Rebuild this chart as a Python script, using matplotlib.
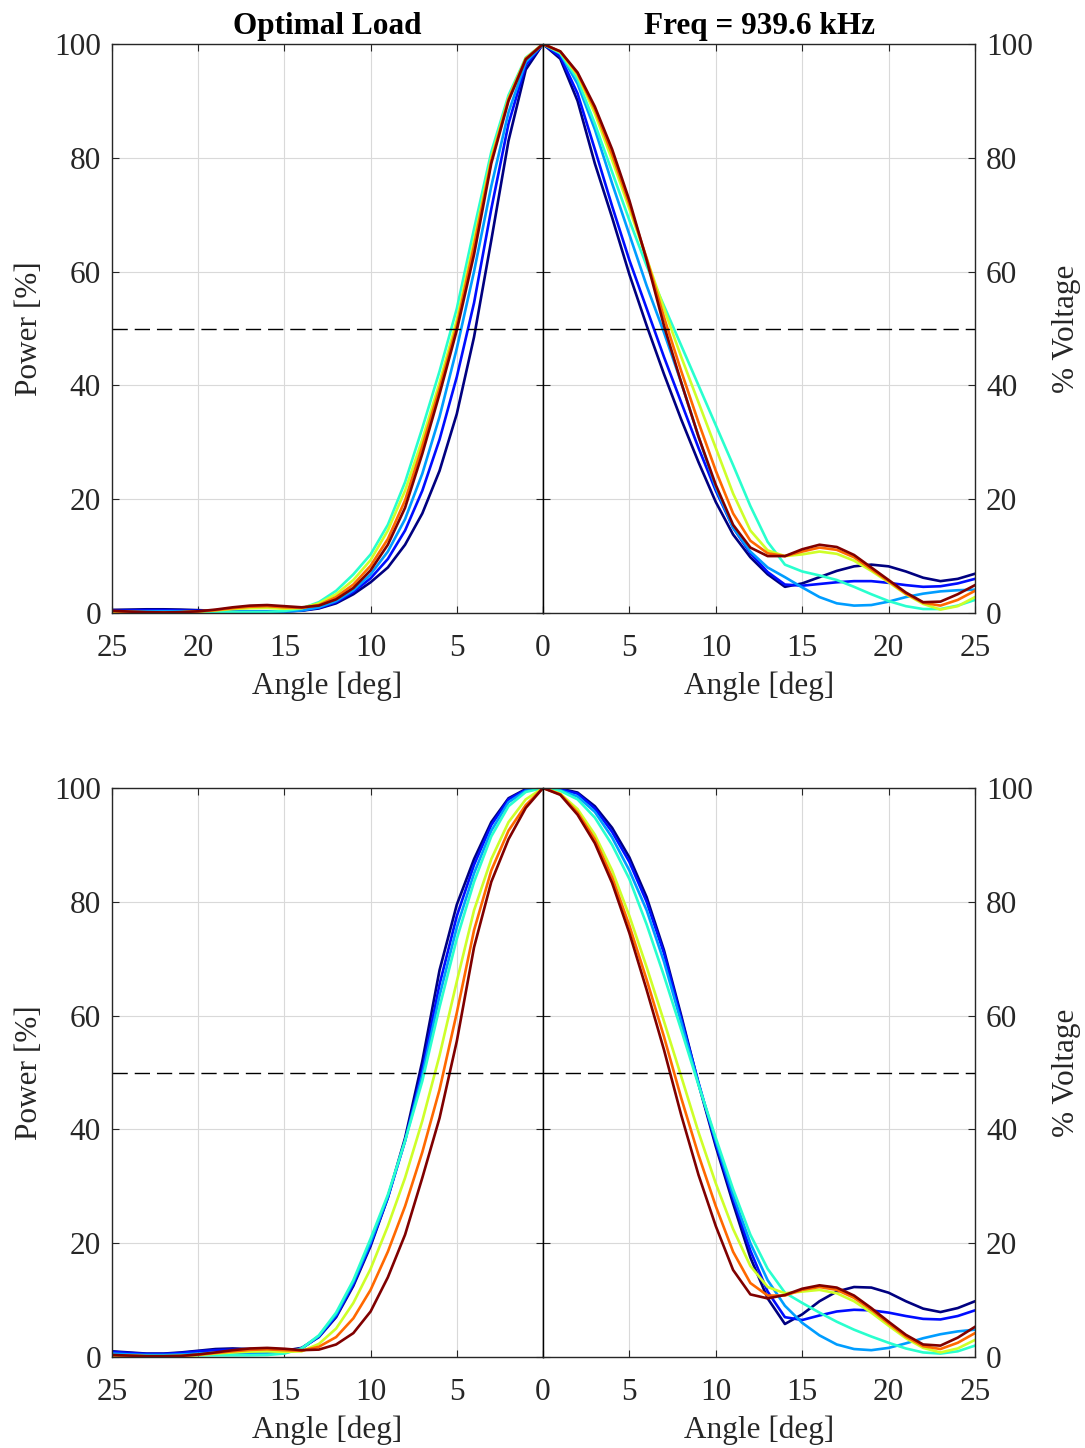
import numpy as np
import matplotlib
matplotlib.use('Agg')
import matplotlib.pyplot as plt

plt.rcParams['font.family'] = ['Liberation Serif', 'DejaVu Serif']

# angle samples (deg) shared by every curve, each half goes 0 -> 25
angles = list(range(26))
# position of each curve in the jet colormap (first = navy, last = dark red)
jet_levels = [0.0, 0.14, 0.28, 0.4, 0.6, 0.8, 1.0]
xticks = [0, 5, 10, 15, 20, 25]
yticks = [0, 20, 40, 60, 80, 100]

# ---- top panel, left half (power %) ----
tl_navy = [100, 95.5, 83, 65.5, 48.5, 35, 25, 17.5, 12, 8, 5.4, 3.3, 1.7, 0.8, 0.4, 0.3, 0.3, 0.3, 0.35, 0.4, 0.5, 0.6, 0.65, 0.65, 0.6, 0.55]
tl_blue = [100, 96.3, 86, 71, 54.5, 41.5, 30.5, 21.5, 14.5, 9.5, 6.1, 3.7, 1.9, 0.9, 0.45, 0.3, 0.3, 0.3, 0.3, 0.35, 0.4, 0.45, 0.5, 0.5, 0.45, 0.4]
tl_sky = [100, 96.8, 88, 75, 60, 46.5, 34.5, 24.5, 16.5, 10.8, 6.8, 4.0, 2.1, 1.0, 0.45, 0.25, 0.2, 0.2, 0.2, 0.25, 0.3, 0.3, 0.3, 0.3, 0.3, 0.3]
tl_aqua = [100, 97.6, 91, 81, 67.5, 53.5, 42.5, 32.5, 23, 15.5, 10.3, 6.8, 3.9, 1.9, 0.8, 0.35, 0.2, 0.2, 0.2, 0.2, 0.15, 0.12, 0.1, 0.1, 0.12, 0.18]
tl_lime = [100, 97.5, 90.5, 80, 65.5, 51.5, 40.5, 30.5, 21.5, 14.5, 9.3, 5.8, 3.3, 1.7, 0.85, 0.75, 0.9, 0.85, 0.7, 0.45, 0.25, 0.12, 0.08, 0.1, 0.15, 0.25]
tl_orange = [100, 97.4, 90.3, 79.5, 64.5, 50.5, 39.5, 29.3, 19.8, 13, 8.3, 5.0, 2.8, 1.4, 0.9, 1.0, 1.2, 1.1, 0.85, 0.5, 0.28, 0.13, 0.09, 0.12, 0.2, 0.32]
tl_red = [100, 97.3, 90, 79, 63, 49.7, 38.5, 28, 18.5, 12, 7.5, 4.4, 2.4, 1.3, 1.0, 1.2, 1.4, 1.3, 1.0, 0.6, 0.3, 0.15, 0.1, 0.15, 0.25, 0.4]

# ---- top panel, right half ----
tr_navy = [100, 97.4, 90, 79, 69.5, 59.5, 50.5, 42, 34, 26.5, 19.5, 13.8, 9.8, 6.8, 4.6, 5.2, 6.3, 7.4, 8.2, 8.5, 8.2, 7.3, 6.2, 5.6, 6.0, 6.9]
tr_blue = [100, 97.8, 91.3, 81.5, 71.5, 62, 53.5, 45, 37, 29, 21.5, 15, 10.5, 7.2, 5.0, 4.8, 5.1, 5.4, 5.6, 5.6, 5.3, 4.9, 4.6, 4.7, 5.2, 6.0]
tr_sky = [100, 98.3, 93, 85, 75.5, 66.5, 57.5, 49.3, 40.5, 31, 22, 15, 10.8, 8.0, 6.3, 4.5, 2.8, 1.7, 1.3, 1.4, 2.0, 2.8, 3.4, 3.8, 4.0, 4.1]
tr_aqua = [100, 98.4, 93.8, 86, 77.5, 69, 61, 54, 47, 40, 33, 26, 18.8, 12.5, 8.5, 7.3, 6.6, 5.8, 4.6, 3.3, 2.1, 1.2, 0.7, 0.7, 1.3, 2.3]
tr_lime = [100, 98.6, 94.5, 87.8, 79.6, 71, 62.3, 53.5, 45, 37, 29, 21, 14.5, 11, 10, 10.3, 10.8, 10.4, 9.2, 7.4, 5.4, 3.3, 1.6, 0.6, 1.2, 2.8]
tr_orange = [100, 98.7, 94.8, 88.5, 80.6, 71.8, 62.3, 52, 42.5, 33.5, 25, 17.5, 12.7, 10.5, 10.0, 10.8, 11.5, 11.1, 9.8, 7.7, 5.6, 3.4, 1.8, 1.3, 2.3, 3.9]
tr_red = [100, 98.7, 95, 89, 81.5, 72.5, 62, 50.5, 40.5, 31, 22.5, 15.5, 11.5, 10.0, 10.0, 11.2, 12.0, 11.6, 10.2, 8.0, 5.8, 3.6, 1.9, 2.0, 3.3, 4.9]

# ---- bottom panel, left half ----
bl_navy = [100, 99.8, 98.2, 94, 87.5, 79.5, 68, 52, 38.5, 28, 19.5, 12.5, 7, 3.5, 1.6, 1.1, 1.2, 1.4, 1.5, 1.4, 1.1, 0.8, 0.6, 0.6, 0.8, 1.0]
bl_blue = [100, 99.7, 98, 93.5, 86.5, 77.5, 65.5, 50.5, 38, 28, 19.8, 12.8, 7.2, 3.6, 1.5, 0.9, 1.0, 1.2, 1.3, 1.2, 1.0, 0.7, 0.55, 0.55, 0.7, 0.9]
bl_sky = [100, 99.5, 97.5, 92.5, 85, 75.5, 63.5, 49.5, 38, 28.2, 20.2, 13.2, 7.5, 3.7, 1.5, 0.7, 0.6, 0.7, 0.8, 0.75, 0.6, 0.45, 0.35, 0.35, 0.45, 0.6]
bl_aqua = [100, 99.3, 96.8, 91.5, 83.5, 73.5, 61.5, 48.5, 38, 28.5, 20.8, 13.5, 7.8, 3.8, 1.5, 0.6, 0.35, 0.3, 0.3, 0.3, 0.3, 0.25, 0.2, 0.2, 0.25, 0.3]
bl_lime = [100, 98, 94, 87.5, 78.5, 66, 53, 41.5, 31.5, 23, 15.5, 9.5, 5.0, 2.3, 1.0, 0.9, 1.0, 0.95, 0.8, 0.6, 0.35, 0.15, 0.1, 0.12, 0.2, 0.3]
bl_orange = [100, 97, 92.5, 85.5, 75, 60.5, 47, 36, 26.5, 18.5, 11.8, 6.8, 3.5, 1.8, 1.1, 1.2, 1.35, 1.25, 1.0, 0.7, 0.4, 0.18, 0.12, 0.13, 0.22, 0.32]
bl_red = [100, 96.5, 91, 83.5, 72, 55.5, 42, 31.5, 21.5, 14, 8, 4.2, 2.2, 1.3, 1.2, 1.45, 1.6, 1.5, 1.2, 0.8, 0.45, 0.2, 0.15, 0.15, 0.25, 0.35]

# ---- bottom panel, right half ----
br_navy = [100, 99.9, 99.2, 96.8, 93, 87.8, 80.8, 71.5, 60, 48, 37, 27, 17.5, 10.3, 5.8, 7.5, 9.8, 11.5, 12.3, 12.2, 11.3, 9.8, 8.5, 7.9, 8.6, 9.8]
br_blue = [100, 99.8, 99.0, 96.4, 92.3, 87, 80, 71, 59.5, 48.2, 37.5, 27.8, 18.7, 11.5, 7.0, 6.5, 7.3, 8.0, 8.3, 8.2, 7.8, 7.2, 6.7, 6.6, 7.2, 8.2]
br_sky = [100, 99.6, 98.5, 95.8, 91.3, 85.5, 78.5, 69.5, 58.8, 48, 38, 28.5, 20, 13.5, 9.0, 6.0, 3.8, 2.2, 1.4, 1.2, 1.6, 2.4, 3.3, 4.0, 4.5, 4.8]
br_aqua = [100, 99.5, 98, 94.8, 90, 84, 76, 67, 57.5, 47.8, 38.5, 29.5, 21.5, 15.5, 11.3, 9.5, 7.8, 6.2, 4.8, 3.6, 2.5, 1.5, 0.8, 0.6, 1.0, 2.0]
br_lime = [100, 99, 96.3, 91.8, 85.5, 77.5, 68.5, 59, 49.3, 39.5, 30.5, 22.5, 16, 12.3, 11.2, 11.5, 11.8, 11.2, 9.8, 7.8, 5.5, 3.3, 1.6, 0.8, 1.5, 3.0]
br_orange = [100, 98.9, 95.7, 91, 84.3, 75.8, 66.3, 56.3, 45.5, 35.5, 26.5, 18.5, 13, 10.8, 10.8, 11.8, 12.3, 11.8, 10.4, 8.3, 5.9, 3.6, 1.9, 1.4, 2.5, 4.2]
br_red = [100, 98.8, 95.3, 90.3, 83.3, 74.5, 64.5, 54, 42.5, 32, 23, 15.3, 11.0, 10.3, 10.9, 12.0, 12.6, 12.2, 10.8, 8.6, 6.2, 3.9, 2.2, 2.0, 3.4, 5.3]

TXT = '#262626'
FS = 22.5


def draw_half(ax, curves, side):
    colors = plt.cm.jet(jet_levels)
    for vals, c in zip(curves, colors):
        ax.plot(angles, vals, color=c, lw=1.9, solid_joinstyle='round')
    ax.axhline(50, color='k', lw=1.0, dashes=(11, 5))

    ax.set_ylim(0, 100)
    ax.set_yticks(yticks)
    ax.set_xticks(xticks)
    if side == 'left':
        ax.set_xlim(25, 0)
        ax.set_xticklabels([str(t) for t in xticks])
    else:
        ax.set_xlim(0, 25)
        ax.set_xticklabels([''] + [str(t) for t in xticks[1:]])

    ax.grid(True, color='0.85', lw=0.8)
    ax.tick_params(direction='in', top=True, bottom=True, left=True, right=True,
                   length=5, width=0.8, colors=TXT, labelsize=FS)
    ax.tick_params(axis='x', pad=15)
    ax.tick_params(axis='y', pad=8)
    for sp in ax.spines.values():
        sp.set_color(TXT)
        sp.set_linewidth(1.0)
    ax.set_xlabel('Angle [deg]', fontsize=FS, color=TXT, labelpad=6)

    if side == 'left':
        ax.spines['right'].set_color('k')
        ax.tick_params(labelleft=True, labelright=False)
        ax.set_ylabel('Power [%]', fontsize=FS, color=TXT, labelpad=7)
    else:
        ax.spines['left'].set_color('k')
        ax.tick_params(labelleft=False, labelright=True)
        ax.yaxis.set_label_position('right')
        ax.set_ylabel('% Voltage', fontsize=FS, color=TXT, labelpad=14)


fig = plt.figure(figsize=(10.85, 14.48), dpi=100)

x0, xm, x1 = 112 / 1085, 543 / 1085, 975 / 1085
h = 569 / 1448
top_y = 1 - 613 / 1448
bot_y = 1 - 1357 / 1448

ax_tl = fig.add_axes([x0, top_y, xm - x0, h])
ax_tr = fig.add_axes([xm, top_y, x1 - xm, h])
ax_bl = fig.add_axes([x0, bot_y, xm - x0, h])
ax_br = fig.add_axes([xm, bot_y, x1 - xm, h])

draw_half(ax_tl, [tl_navy, tl_blue, tl_sky, tl_aqua, tl_lime, tl_orange, tl_red], 'left')
draw_half(ax_tr, [tr_navy, tr_blue, tr_sky, tr_aqua, tr_lime, tr_orange, tr_red], 'right')
draw_half(ax_bl, [bl_navy, bl_blue, bl_sky, bl_aqua, bl_lime, bl_orange, bl_red], 'left')
draw_half(ax_br, [br_navy, br_blue, br_sky, br_aqua, br_lime, br_orange, br_red], 'right')

ax_tl.set_title('Optimal Load', fontsize=FS, fontweight='bold', pad=7)
ax_tr.set_title('Freq = 939.6 kHz', fontsize=FS, fontweight='bold', pad=7)

fig.savefig('out.png', dpi=100)
